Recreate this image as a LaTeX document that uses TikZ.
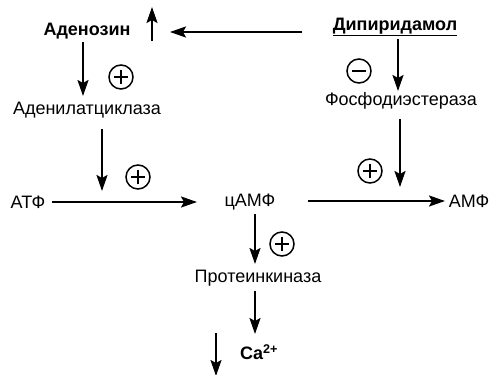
\documentclass[tikz,border=0pt]{standalone}
\usepackage{fontspec}
\setmainfont{Liberation Sans}
\usetikzlibrary{arrows.meta}
\begin{document}
\begin{tikzpicture}[x=1pt,y=-1pt,
  lbl/.style={inner sep=0pt, font=\fontsize{18}{21}\selectfont},
  blbl/.style={inner sep=0pt, font=\fontsize{18}{21}\selectfont\bfseries},
  arr/.style={-{Stealth[length=16pt,width=11pt,inset=3pt]}, line width=2.2pt},
  sign/.style={circle, draw, line width=1.5pt, minimum size=24pt, inner sep=0pt},
  plus/.style={sign, path picture={
      \draw[line width=1.8pt]
        ([xshift=-7pt]path picture bounding box.center) -- ([xshift=7pt]path picture bounding box.center)
        ([yshift=-7pt]path picture bounding box.center) -- ([yshift=7pt]path picture bounding box.center);}},
  minus/.style={sign, path picture={
      \draw[line width=2.4pt]
        ([xshift=-7pt]path picture bounding box.center) -- ([xshift=7pt]path picture bounding box.center);}},
]
\useasboundingbox (0,0) rectangle (493,375);

% substances and enzymes
\node[blbl] (ado) at (87,31) {Аденозин};
\node[blbl] (dip) at (395,27) {\underline{Дипиридамол}};
\node[lbl] (ac) at (87,110) {Аденилатциклаза};
\node[lbl] (pde) at (401,101) {Фосфодиэстераза};
\node[lbl] (atp) at (28,202) {АТФ};
\node[lbl] (camp) at (250,202) {цАМФ};
\node[lbl] (amp) at (469,201) {АМФ};
\node[lbl] (pk) at (258,278) {Протеинкиназа};
\node[blbl, anchor=west] (ca) at (240,352) {Ca\textsuperscript{2+}};

% activation / inhibition signs
\node[plus]  (s1) at (121,77) {};
\node[minus] (s2) at (359,71) {};
\node[plus]  (s3) at (138,177) {};
\node[plus]  (s4) at (370,171) {};
\node[plus]  (s5) at (282,244) {};

% free ends of the arrows
\coordinate (upB) at (152,41);
\coordinate (upT) at (152,7);
\coordinate (inhS) at (302,32);
\coordinate (inhE) at (170,32);
\coordinate (acT) at (102,191);
\coordinate (pdeT) at (400,187);
\coordinate (atpS) at (52,202);
\coordinate (campW) at (197,202);
\coordinate (campE) at (308,201);
\coordinate (ampW) at (445,201);
\coordinate (caB) at (216,333);
\coordinate (caE) at (216,376);

\draw[arr] (upB) -- (upT);
\draw[arr] (inhS) -- (inhE);
\draw[arr] (83,42) -- (83,96);
\draw[arr] (398,39) -- (398,91);
\draw[arr] (102,129) -- (acT);
\draw[arr] (400,119) -- (pdeT);
\draw[arr] (atpS) -- (campW);
\draw[arr] (campE) -- (ampW);
\draw[arr] (255,214) -- (255,264);
\draw[arr] (255,291) -- (255,334);
\draw[arr] (caB) -- (caE);
\end{tikzpicture}
\end{document}
